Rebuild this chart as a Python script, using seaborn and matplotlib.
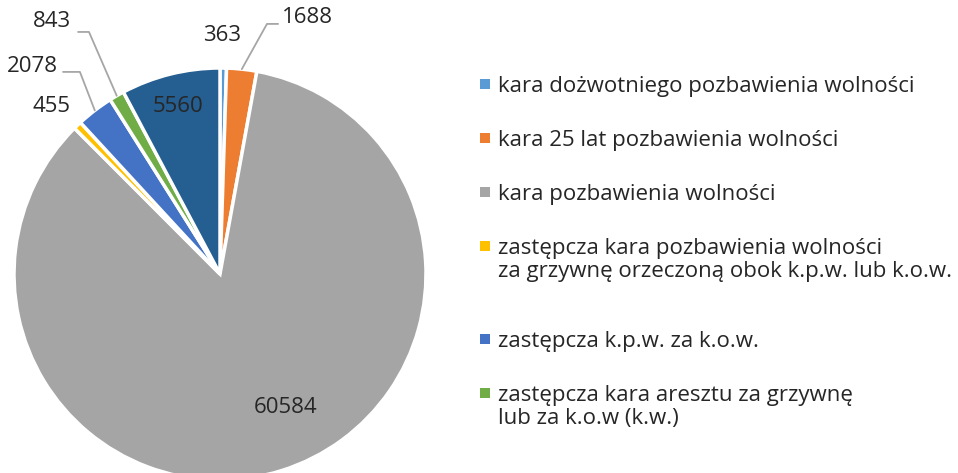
import numpy as np
import seaborn as sns
import matplotlib.pyplot as plt
from matplotlib.patches import Rectangle

# -------------------------------
# Data
# -------------------------------
categories = [
    "kara dożwotniego pozbawienia wolności",
    "kara 25 lat pozbawienia wolności",
    "kara pozbawienia wolności",
    "zastępcza kara pozbawienia wolności\nza grzywnę orzeczoną obok k.p.w. lub k.o.w.",
    "zastępcza k.p.w. za k.o.w.",
    "zastępcza kara aresztu za grzywnę\nlub za k.o.w (k.w.)",
    "",
]
values = [363, 1688, 60584, 455, 2078, 843, 5560]
colors = ["#5B9BD5", "#ED7D31", "#A5A5A5", "#FFC000", "#4472C4", "#70AD47", "#255E91"]

# label placement (axes units, pie radius = 1) and optional leader elbow
label_pos = [(0.01, 1.16), (0.30, 1.245), (0.32, -0.646), (-0.82, 0.811),
             (-0.913, 1.005), (-0.816, 1.225), (-0.204, 0.811)]
label_ha = ["center", "left", "center", "center", "center", "center", "center"]
leaders = {1: [(0.228, 1.214), (0.282, 1.214)],
           4: [(-0.68, 0.981), (-0.762, 0.981)],
           5: [(-0.636, 1.175), (-0.689, 1.175)]}

sns.set_theme(style="white")
plt.rcParams["font.family"] = ["Open Sans", "DejaVu Sans"]
palette = sns.color_palette(colors)

W, H = 958, 473
fig = plt.figure(figsize=(W / 100, H / 100), dpi=100)
cx, cy, r = 220, 274, 206
ax = fig.add_axes([(cx - r) / W, (H - cy - r) / H, 2 * r / W, 2 * r / H])

wedges, _ = ax.pie(values, colors=palette, startangle=90, counterclock=False,
                   radius=1.0, wedgeprops=dict(edgecolor="white", linewidth=2.5))
ax.set_xlim(-1, 1)
ax.set_ylim(-1, 1)
ax.set_aspect("auto")

txt_color = "#262626"
for i, (w, v) in enumerate(zip(wedges, values)):
    mid = np.deg2rad((w.theta1 + w.theta2) / 2)
    x, y = label_pos[i]
    ax.text(x, y, f"{v}", ha=label_ha[i], va="center", fontsize=16,
            color=txt_color, clip_on=False)
    if i in leaders:
        pts = [(np.cos(mid), np.sin(mid))] + leaders[i]
        xs, ys = zip(*pts)
        ax.plot(xs, ys, color="#A6A6A6", linewidth=1.3, clip_on=False)

# legend (first six categories), marker aligned with first text line
base_y = 92
sq = 10
for i, lab in enumerate(categories[:6]):
    lines = lab.split("\n")
    fig.add_artist(Rectangle((480 / W, 1 - (base_y - 8 + sq / 2) / H), sq / W, sq / H,
                             transform=fig.transFigure, facecolor=palette[i],
                             edgecolor="none"))
    for j, ln in enumerate(lines):
        fig.text(498 / W, 1 - (base_y + j * 23) / H, ln, ha="left", va="baseline",
                 fontsize=16, color=txt_color)
    base_y += 54 + (len(lines) - 1) * 39

fig.savefig("out.png", dpi=100)
